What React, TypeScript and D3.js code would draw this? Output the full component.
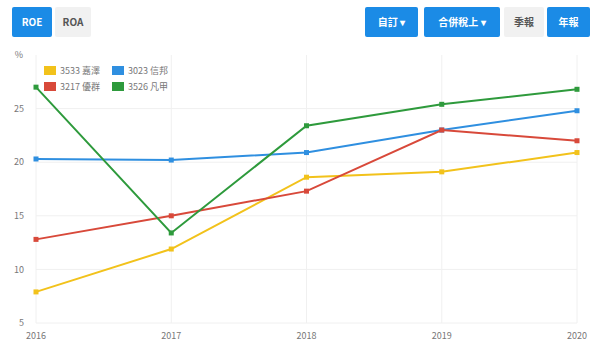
import { useEffect, useRef } from 'react';
import * as d3 from 'd3';

const years = ['2016', '2017', '2018', '2019', '2020'];
const seriesNames = ['3533 嘉澤', '3023 信邦', '3217 優群', '3526 凡甲'];
const seriesColors = ['#f2c21b', '#2f8fe0', '#d8493a', '#2e9a3c'];
const jiaze = [7.9, 11.9, 18.6, 19.1, 20.9];
const xinbang = [20.3, 20.2, 20.9, 23.0, 24.8];
const youqun = [12.8, 15.0, 17.3, 23.0, 22.0];
const fanjia = [27.0, 13.4, 23.4, 25.4, 26.8];
const yTicks = [5, 10, 15, 20, 25];

const leftButtons = [
  { label: 'ROE', active: true, x: 12, w: 40 },
  { label: 'ROA', active: false, x: 55, w: 36 },
];
const rightButtons = [
  { label: '自訂 ▾', active: true, x: 365, w: 53 },
  { label: '合併稅上 ▾', active: true, x: 424, w: 76 },
  { label: '季報', active: false, x: 504, w: 40 },
  { label: '年報', active: true, x: 547, w: 43 },
];

export default function App() {
  const svgRef = useRef<SVGSVGElement>(null);

  useEffect(() => {
    if (!svgRef.current) return;
    const svg = d3.select(svgRef.current);
    svg.selectAll('*').remove();

    const font = '"Noto Sans CJK TC", "Noto Sans", sans-serif';
    const blue = '#1b8be6';

    // buttons
    const btns = [...leftButtons, ...rightButtons];
    const bg = svg.append('g');
    btns.forEach((b) => {
      bg.append('rect')
        .attr('x', b.x)
        .attr('y', 7)
        .attr('width', b.w)
        .attr('height', 30)
        .attr('rx', 2)
        .attr('fill', b.active ? blue : '#f1f1f1');
      bg.append('text')
        .attr('x', b.x + b.w / 2)
        .attr('y', 22)
        .attr('dy', '0.35em')
        .attr('text-anchor', 'middle')
        .attr('font-family', font)
        .attr('font-size', 10)
        .attr('font-weight', 600)
        .attr('fill', b.active ? '#ffffff' : '#555')
        .text(b.label);
    });

    const x = d3.scalePoint().domain(years).range([36, 577]);
    const y = d3.scaleLinear().domain([5, 30]).range([323, 55]);

    const g = svg.append('g');

    // grid
    g.selectAll('.hgrid')
      .data(yTicks)
      .enter()
      .append('line')
      .attr('x1', 36)
      .attr('x2', 577)
      .attr('y1', (d) => y(d))
      .attr('y2', (d) => y(d))
      .attr('stroke', '#f0f0f0');
    g.selectAll('.vgrid')
      .data(years)
      .enter()
      .append('line')
      .attr('x1', (d) => x(d) || 0)
      .attr('x2', (d) => x(d) || 0)
      .attr('y1', 55)
      .attr('y2', 323)
      .attr('stroke', '#f0f0f0');

    // axis labels
    g.selectAll('.ylab')
      .data(yTicks)
      .enter()
      .append('text')
      .attr('x', 24)
      .attr('y', (d) => y(d))
      .attr('dy', '0.35em')
      .attr('text-anchor', 'end')
      .attr('font-family', font)
      .attr('font-size', 9)
      .attr('fill', '#777')
      .text((d) => d);
    g.append('text')
      .attr('x', 19)
      .attr('y', 58)
      .attr('text-anchor', 'middle')
      .attr('font-family', font)
      .attr('font-size', 9)
      .attr('fill', '#777')
      .text('%');
    g.selectAll('.xlab')
      .data(years)
      .enter()
      .append('text')
      .attr('x', (d) => x(d) || 0)
      .attr('y', 339)
      .attr('text-anchor', 'middle')
      .attr('font-family', font)
      .attr('font-size', 9)
      .attr('fill', '#777')
      .text((d) => d);

    const allSeries = [jiaze, xinbang, youqun, fanjia];
    const line = d3
      .line<number>()
      .x((_, i) => x(years[i]) || 0)
      .y((d) => y(d));

    allSeries.forEach((vals, si) => {
      g.append('path')
        .datum(vals)
        .attr('d', line)
        .attr('fill', 'none')
        .attr('stroke', seriesColors[si])
        .attr('stroke-width', 2);
      g.selectAll(`.pt${si}`)
        .data(vals)
        .enter()
        .append('rect')
        .attr('x', (_, i) => (x(years[i]) || 0) - 2.5)
        .attr('y', (d) => y(d) - 2.5)
        .attr('width', 5)
        .attr('height', 5)
        .attr('fill', seriesColors[si]);
    });

    // legend
    const lg = svg.append('g');
    seriesNames.forEach((name, i) => {
      const lx = 44 + (i % 2) * 68;
      const ly = 71 + Math.floor(i / 2) * 16;
      lg.append('rect')
        .attr('x', lx)
        .attr('y', ly - 5)
        .attr('width', 12)
        .attr('height', 9)
        .attr('fill', seriesColors[i]);
      lg.append('text')
        .attr('x', lx + 16)
        .attr('y', ly)
        .attr('dy', '0.35em')
        .attr('font-family', font)
        .attr('font-size', 9)
        .attr('fill', '#777')
        .text(name);
    });

    return () => {
      svg.selectAll('*').remove();
    };
  }, []);

  return (
    <svg
      ref={svgRef}
      width={602}
      height={353}
      viewBox="0 0 602 353"
      style={{ position: 'absolute', left: 0, top: 0, background: '#fff' }}
    />
  );
}
